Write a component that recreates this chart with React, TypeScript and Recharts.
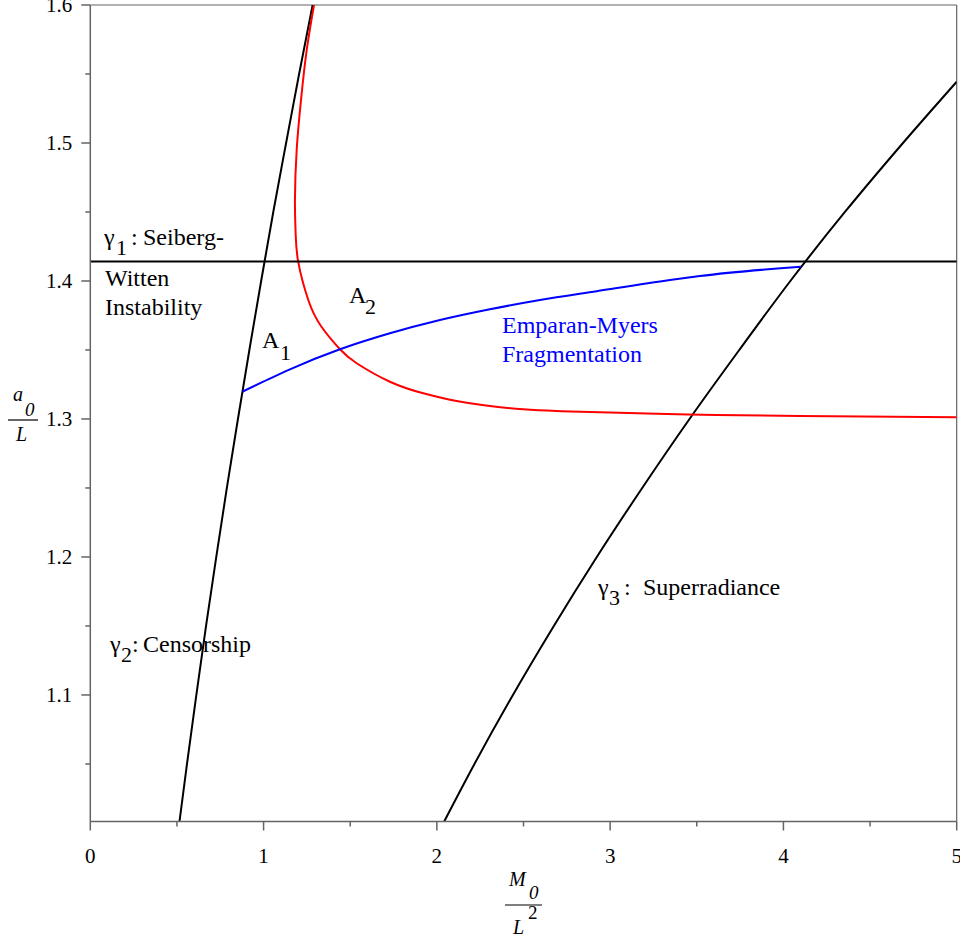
import React from 'react';
import { LineChart, Line, XAxis, YAxis, ReferenceLine, Customized } from 'recharts';

// ---------- data ----------
const xTicks = [0, 0.5, 1, 1.5, 2, 2.5, 3, 3.5, 4, 4.5, 5];
const yTicks = [1.05, 1.1, 1.15, 1.2, 1.25, 1.3, 1.35, 1.4, 1.45, 1.5, 1.55, 1.6];
const xDomain: [number, number] = [0, 5];
const yDomain: [number, number] = [1.0083, 1.6];

// gamma1 : Seiberg-Witten instability (horizontal)
const seibergWitten = [
  { x: 0, y: 1.4142 },
  { x: 5, y: 1.4142 },
];

// gamma2 : censorship
const censorship = [
  { x: 0.515, y: 1.0085 },
  { x: 0.558, y: 1.05 },
  { x: 0.612, y: 1.1 },
  { x: 0.668, y: 1.15 },
  { x: 0.727, y: 1.2 },
  { x: 0.788, y: 1.25 },
  { x: 0.852, y: 1.3 },
  { x: 0.918, y: 1.35 },
  { x: 0.986, y: 1.4 },
  { x: 1.056, y: 1.45 },
  { x: 1.13, y: 1.5 },
  { x: 1.205, y: 1.55 },
  { x: 1.283, y: 1.6 },
];

// gamma3 : superradiance
const superradiance = [
  { x: 2.043, y: 1.0085 },
  { x: 2.217, y: 1.05 },
  { x: 2.439, y: 1.1 },
  { x: 2.675, y: 1.15 },
  { x: 2.923, y: 1.2 },
  { x: 3.185, y: 1.25 },
  { x: 3.458, y: 1.3 },
  { x: 3.745, y: 1.35 },
  { x: 4.04, y: 1.4 },
  { x: 4.355, y: 1.45 },
  { x: 4.69, y: 1.5 },
  { x: 5.0, y: 1.5444 },
];

// red curve (traced from its top end down to the right edge)
const redCurve = [
  { x: 1.291, y: 1.6 },
  { x: 1.249, y: 1.5674 },
  { x: 1.216, y: 1.5312 },
  { x: 1.191, y: 1.4949 },
  { x: 1.181, y: 1.4587 },
  { x: 1.185, y: 1.4348 },
  { x: 1.2, y: 1.4138 },
  { x: 1.258, y: 1.3862 },
  { x: 1.331, y: 1.3674 },
  { x: 1.441, y: 1.3505 },
  { x: 1.537, y: 1.3404 },
  { x: 1.729, y: 1.327 },
  { x: 1.922, y: 1.3186 },
  { x: 2.114, y: 1.313 },
  { x: 2.306, y: 1.3094 },
  { x: 2.499, y: 1.307 },
  { x: 2.691, y: 1.3058 },
  { x: 2.883, y: 1.3051 },
  { x: 3.451, y: 1.3033 },
  { x: 4.095, y: 1.3022 },
  { x: 5.0, y: 1.3012 },
];

// Emparan-Myers fragmentation (blue)
const fragmentation = [
  { x: 0.878, y: 1.3198 },
  { x: 0.998, y: 1.327 },
  { x: 1.152, y: 1.336 },
  { x: 1.441, y: 1.3505 },
  { x: 1.729, y: 1.3621 },
  { x: 2.018, y: 1.3717 },
  { x: 2.306, y: 1.3795 },
  { x: 2.595, y: 1.3862 },
  { x: 2.922, y: 1.3926 },
  { x: 3.345, y: 1.4007 },
  { x: 3.518, y: 1.4036 },
  { x: 4.101, y: 1.4104 },
];

// ---------- styles ----------
const SERIF = "'Liberation Serif', 'Times New Roman', serif";
const AXIS = '#646464';
const W = 960;
const H = 938;

const isMajor = (v: number, step: number) => Math.abs(v / step - Math.round(v / step)) < 1e-6;

const YTick = (props: any) => {
  const { x, y, payload } = props;
  const v = payload.value as number;
  const major = isMajor(v, 0.1);
  return (
    <g>
      <line x1={x - (major ? 9 : 5)} x2={x} y1={y} y2={y} stroke={AXIS} strokeWidth={1.5} />
      {major && (
        <text x={x - 18} y={y + 7} textAnchor="end" fontFamily={SERIF} fontSize={21} fill="#000">
          {v.toFixed(1)}
        </text>
      )}
    </g>
  );
};

const XTick = (props: any) => {
  const { x, y, payload } = props;
  const v = payload.value as number;
  const major = isMajor(v, 1);
  return (
    <g>
      <line x1={x} x2={x} y1={y} y2={y + (major ? 9 : 5)} stroke={AXIS} strokeWidth={1.5} />
      {major && (
        <text x={x} y={y + 41} textAnchor="middle" fontFamily={SERIF} fontSize={21} fill="#000">
          {String(v)}
        </text>
      )}
    </g>
  );
};

const Annotations = () => (
  <g fontFamily={SERIF} fill="#000">
    {/* gamma1 */}
    <text x={104} y={245} fontSize={24}>γ</text>
    <text x={116} y={255} fontSize={22}>1</text>
    <text x={131} y={245} fontSize={24}>:</text>
    <text x={143} y={245} fontSize={24}>Seiberg-</text>
    <text x={105} y={286} fontSize={24}>Witten</text>
    <text x={105} y={315} fontSize={24}>Instability</text>
    {/* A1, A2 */}
    <text x={262} y={348} fontSize={24}>A</text>
    <text x={280} y={360} fontSize={22}>1</text>
    <text x={349} y={303} fontSize={24}>A</text>
    <text x={365} y={314} fontSize={22}>2</text>
    {/* Emparan-Myers */}
    <text x={502} y={333} fontSize={24} fill="#0000ff">Emparan-Myers</text>
    <text x={502} y={362} fontSize={24} fill="#0000ff">Fragmentation</text>
    {/* gamma3 */}
    <text x={598} y={595} fontSize={24}>γ</text>
    <text x={609} y={605} fontSize={22}>3</text>
    <text x={624} y={595} fontSize={24}>:</text>
    <text x={643} y={595} fontSize={24}>Superradiance</text>
    {/* gamma2 */}
    <text x={110} y={652} fontSize={24}>γ</text>
    <text x={121} y={662} fontSize={22}>2</text>
    <text x={132} y={652} fontSize={24}>:</text>
    <text x={143} y={652} fontSize={24}>Censorship</text>
    {/* y axis label a0 / L */}
    <text x={13} y={401} fontSize={20} fontStyle="italic">a</text>
    <text x={25} y={416} fontSize={19} fontStyle="italic">0</text>
    <line x1={8} x2={38} y1={420} y2={420} stroke="#000" strokeWidth={1.2} />
    <text x={16} y={441} fontSize={20} fontStyle="italic">L</text>
    {/* x axis label M0 / L^2 */}
    <text x={509} y={886} fontSize={20} fontStyle="italic">M</text>
    <text x={529} y={899} fontSize={19} fontStyle="italic">0</text>
    <line x1={505} x2={542} y1={905} y2={905} stroke="#000" strokeWidth={1.2} />
    <text x={528} y={919} fontSize={19}>2</text>
    <text x={513} y={934} fontSize={20} fontStyle="italic">L</text>
  </g>
);

export default function App() {
  return (
    <div style={{ position: 'absolute', left: 0, top: 0, width: W, height: H, background: '#fff' }}>
      <LineChart width={W} height={H} margin={{ top: 5, right: 3.3, bottom: 86.5, left: 0 }}>
        <XAxis
          type="number"
          dataKey="x"
          domain={xDomain}
          ticks={xTicks}
          allowDataOverflow
          height={30}
          tickSize={0}
          tickMargin={0}
          tickLine={false}
          axisLine={{ stroke: AXIS, strokeWidth: 1.5 }}
          tick={<XTick />}
          interval={0}
        />
        <YAxis
          type="number"
          dataKey="y"
          domain={yDomain}
          ticks={yTicks}
          allowDataOverflow
          width={90.3}
          tickSize={0}
          tickMargin={0}
          tickLine={false}
          axisLine={{ stroke: AXIS, strokeWidth: 1.5 }}
          tick={<YTick />}
          interval={0}
        />
        <ReferenceLine y={1.6} stroke={AXIS} strokeWidth={1.2} />
        <ReferenceLine x={5} stroke={AXIS} strokeWidth={1.2} />
        <Line data={censorship} dataKey="y" type="monotoneX" stroke="#000" strokeWidth={2} dot={false} activeDot={false} isAnimationActive={false} />
        <Line data={superradiance} dataKey="y" type="monotoneX" stroke="#000" strokeWidth={2} dot={false} activeDot={false} isAnimationActive={false} />
        <Line data={redCurve} dataKey="y" type="natural" stroke="#ff0000" strokeWidth={2} dot={false} activeDot={false} isAnimationActive={false} />
        <Line data={fragmentation} dataKey="y" type="monotoneX" stroke="#0000ff" strokeWidth={2} dot={false} activeDot={false} isAnimationActive={false} />
        <Line data={seibergWitten} dataKey="y" type="linear" stroke="#000" strokeWidth={2} dot={false} activeDot={false} isAnimationActive={false} />
        <Customized component={Annotations} />
      </LineChart>
    </div>
  );
}
